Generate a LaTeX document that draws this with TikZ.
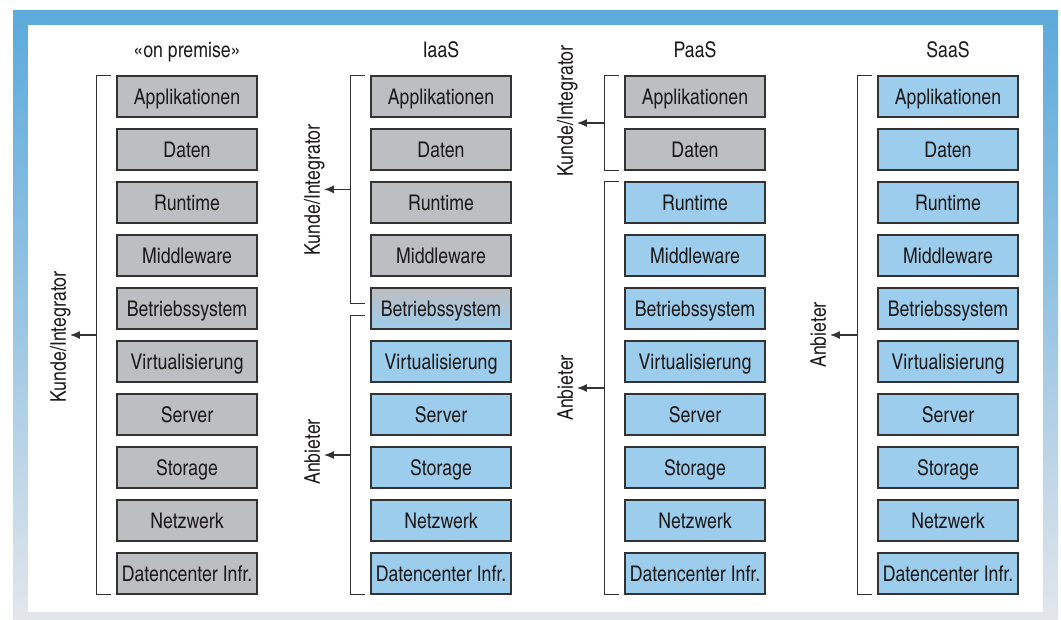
\documentclass[tikz,border=0pt]{standalone}
\usepackage{fontspec}
\setmainfont{texgyreheroscn-regular.otf}
\usetikzlibrary{arrows.meta,calc}
\definecolor{frameblue}{HTML}{5CAADC}
\definecolor{framegrey}{HTML}{E2E6EB}
\definecolor{boxgrey}{HTML}{BDBEC1}
\definecolor{boxblue}{HTML}{9DCDEC}
\definecolor{linec}{HTML}{333333}
\definecolor{textc}{HTML}{1E1B1C}
\begin{document}
\begin{tikzpicture}[x=1pt,y=-1pt,
  txt/.style={text=textc,font=\fontsize{21.6}{26}\selectfont,text height=15.5pt,text depth=0pt,inner sep=0pt},
  layer/.style={txt,draw=linec,line width=1.3pt,minimum width=140pt,minimum height=41pt},
  cust/.style={layer,fill=boxgrey},
  prov/.style={layer,fill=boxblue},
  mixed/.style={layer,top color=boxgrey,bottom color=boxblue},
  bracket/.style={draw=linec,line width=1.3pt},
  arr/.style={draw=linec,line width=1.3pt,-{Latex[length=10pt,width=8pt]},shorten >=4pt},
  role/.style={txt,rotate=90},
  head/.style={txt}
]
\useasboundingbox (0,0) rectangle (1061,619);
% frame
\shade[top color=frameblue, bottom color=framegrey, middle color=frameblue!55!framegrey] (13,10) rectangle (1058,619);
\fill[white] (28,25) rectangle (1043,612);

% headings
\node[head] (h1) at (187,50) {«on premise»};
\node[head] (h2) at (441,50) {IaaS};
\node[head] (h3) at (695,50) {PaaS};
\node[head] (h4) at (948,50) {SaaS};

% columns
\foreach \t [count=\i from 0] in {Applikationen,Daten,Runtime,Middleware,Betriebssystem,Virtualisierung,Server,Storage,Netzwerk,Datencenter Infr.}{
  \node[cust] (a\i) at (187,96.5+53*\i) {\t};
  \ifnum\i<4 \node[cust] (b\i) at (441,96.5+53*\i) {\t};
  \else\ifnum\i=4 \node[mixed] (b\i) at (441,96.5+53*\i) {\t};
  \else \node[prov] (b\i) at (441,96.5+53*\i) {\t};\fi\fi
  \ifnum\i<2 \node[cust] (c\i) at (695,96.5+53*\i) {\t};
  \else \node[prov] (c\i) at (695,96.5+53*\i) {\t};\fi
  \node[prov] (d\i) at (948,96.5+53*\i) {\t};
}

% brackets
\draw[bracket] ([xshift=-5pt]a0.north west) -- ++(-15,0) coordinate (a-top) |- ([xshift=-5pt]a9.south west) coordinate (a-bot);
\draw[bracket] ([xshift=-5pt]b0.north west) -- ++(-15,0) coordinate (b1-top) |- ([xshift=-5pt,yshift=-16pt]b4.north west) coordinate (b1-bot);
\draw[bracket] ([xshift=-5pt,yshift=-28pt]b4.north west) -- ++(-15,0) coordinate (b2-top) |- ([xshift=-5pt]b9.south west) coordinate (b2-bot);
\draw[bracket] ([xshift=-5pt]c0.north west) -- ++(-15,0) coordinate (c1-top) |- ([xshift=-5pt]c1.south west) coordinate (c1-bot);
\draw[bracket] ([xshift=-5pt]c2.north west) -- ++(-15,0) coordinate (c2-top) |- ([xshift=-5pt]c9.south west) coordinate (c2-bot);
\draw[bracket] ([xshift=-5pt]d0.north west) -- ++(-15,0) coordinate (d-top) |- ([xshift=-5pt]d9.south west) coordinate (d-bot);

% midpoints of the brackets
\coordinate (am) at ($(a-top)!0.5!(a-top |- a-bot)$);
\coordinate (b1m) at ($(b1-top)!0.5!(b1-top |- b1-bot)$);
\coordinate (b2m) at ($(b2-top)!0.5!(b2-top |- b2-bot)$);
\coordinate (c1m) at ($(c1-top)!0.5!(c1-top |- c1-bot)$);
\coordinate (c2m) at ($(c2-top)!0.5!(c2-top |- c2-bot)$);
\coordinate (dm) at ($(d-top)!0.5!(d-top |- d-bot)$);

% role labels
\node[role] (la) at (58,337) {Kunde/Integrator};
\node[role] (lb1) at (312,190) {Kunde/Integrator};
\node[role] (lb2) at (312,452) {Anbieter};
\node[role] (lc1) at (565,111) {Kunde/Integrator};
\node[role] (lc2) at (565,388) {Anbieter};
\node[role] (ld) at (818,335) {Anbieter};

% arrows
\draw[arr] (am) -- (am -| la.south);
\draw[arr] (b1m) -- (b1m -| lb1.south);
\draw[arr] (b2m) -- (b2m -| lb2.south);
\draw[arr] (c1m) -- (c1m -| lc1.south);
\draw[arr] (c2m) -- (c2m -| lc2.south);
\draw[arr] (dm) -- (dm -| ld.south);
\end{tikzpicture}
\end{document}
